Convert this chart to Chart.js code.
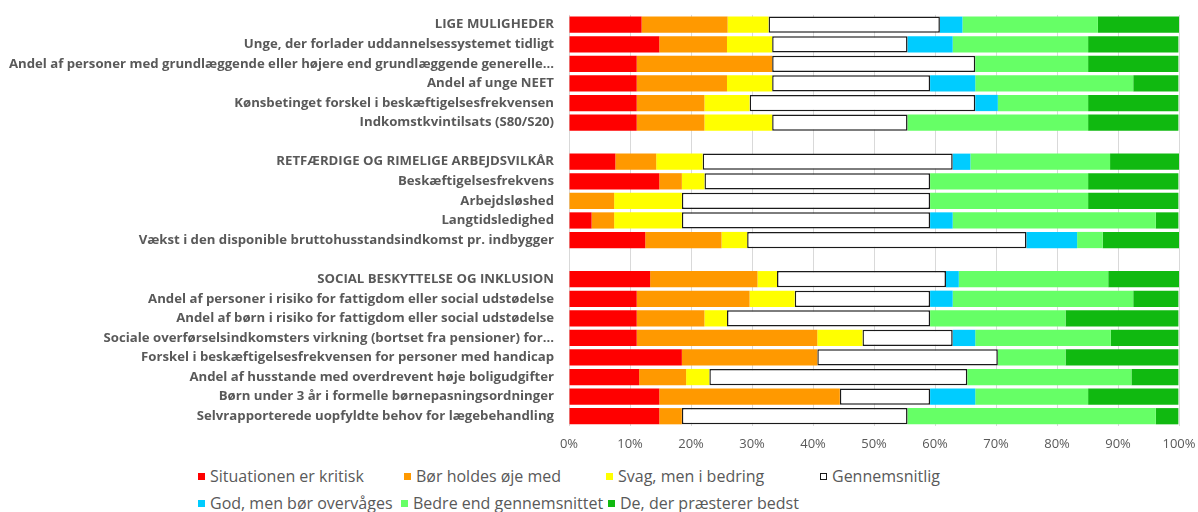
<!DOCTYPE html>
<html>
<head>
<meta charset="utf-8">
<script src="https://cdn.jsdelivr.net/npm/chart.js@4.4.1/dist/chart.umd.min.js"></script>
<style>
  html, body { margin: 0; padding: 0; background: #fff; }
  #wrap { position: relative; width: 1198px; height: 512px; }
  #chart { position: absolute; left: 0; top: 0; }
  .leg { position: absolute; font-family: "Open Sans", sans-serif; font-size: 16px; color: #595959; white-space: nowrap; line-height: 20px; }
  .leg i { display: inline-block; width: 7px; height: 7px; margin-right: 5px; vertical-align: 2px; box-sizing: border-box; }
</style>
</head>
<body>
<div id="wrap">
  <canvas id="chart" width="1198" height="460"></canvas>
  <div id="legend"></div>
</div>
<script>
const labels = [
  'LIGE MULIGHEDER',
  'Unge, der forlader uddannelsessystemet tidligt',
  'Andel af personer med grundlæggende eller højere end grundlæggende generelle…',
  'Andel af unge NEET',
  'Kønsbetinget forskel i beskæftigelsesfrekvensen',
  'Indkomstkvintilsats (S80/S20)',
  '',
  'RETFÆRDIGE OG RIMELIGE ARBEJDSVILKÅR',
  'Beskæftigelsesfrekvens',
  'Arbejdsløshed',
  'Langtidsledighed',
  'Vækst i den disponible bruttohusstandsindkomst pr. indbygger',
  '',
  'SOCIAL BESKYTTELSE OG INKLUSION',
  'Andel af personer i risiko for fattigdom eller social udstødelse',
  'Andel af børn i risiko for fattigdom eller social udstødelse',
  'Sociale overførselsindkomsters virkning (bortset fra pensioner) for…',
  'Forskel i beskæftigelsesfrekvensen for personer med handicap',
  'Andel af husstande med overdrevent høje boligudgifter',
  'Børn under 3 år i formelle børnepasningsordninger',
  'Selvrapporterede uopfyldte behov for lægebehandling'
];

// shares in percent, one value per row (blank rows = null)
const kritisk     = [11.9, 14.8, 11.1, 11.1, 11.1, 11.1, null, 7.6, 14.8, 0,    3.7,  12.5, null, 13.3, 11.1, 11.1, 11.1, 18.5, 11.5, 14.8, 14.8];
const holdesOje   = [14.1, 11.1, 22.2, 14.8, 11.1, 11.1, null, 6.7, 3.7,  7.4,  3.7,  12.5, null, 17.6, 18.5, 11.1, 29.6, 22.2, 7.7,  29.6, 3.7];
const svag        = [6.7,  7.4,  0,    7.4,  7.4,  11.1, null, 7.6, 3.7,  11.1, 11.1, 4.2,  null, 3.2,  7.4,  3.7,  7.4,  0,    3.8,  0,    0];
const gennemsnit  = [28.1, 22.2, 33.3, 25.9, 37.0, 22.2, null, 41.0, 37.0, 40.7, 40.7, 45.8, null, 27.7, 22.2, 33.3, 14.8, 29.6, 42.3, 14.8, 37.0];
const overvages   = [3.7,  7.4,  0,    7.4,  3.7,  0,    null, 2.9, 0,    0,    3.7,  8.3,  null, 2.1,  3.7,  0,    3.7,  0,    0,    7.4,  0];
const bedre       = [22.2, 22.2, 18.5, 25.9, 14.8, 29.6, null, 22.9, 25.9, 25.9, 33.3, 4.2,  null, 24.5, 29.6, 22.2, 22.2, 11.1, 26.9, 18.5, 40.7];
const bedst       = [13.3, 14.8, 14.8, 7.4,  14.8, 14.8, null, 11.4, 14.8, 14.8, 3.7,  12.5, null, 11.7, 7.4,  18.5, 11.1, 18.5, 7.7,  14.8, 3.7];

const xTicks = ['0%', '10%', '20%', '30%', '40%', '50%', '60%', '70%', '80%', '90%', '100%'];

const seriesNames = ['Situationen er kritisk', 'Bør holdes øje med', 'Svag, men i bedring', 'Gennemsnitlig',
  'God, men bør overvåges', 'Bedre end gennemsnittet', 'De, der præsterer bedst'];
const seriesData = [kritisk, holdesOje, svag, gennemsnit, overvages, bedre, bedst];
const colors = ['#ff0000', '#ff9900', '#ffff00', '#ffffff', '#00ccff', '#66ff66', '#10b910'];

const datasets = seriesNames.map((name, i) => ({
  label: name,
  data: seriesData[i],
  backgroundColor: colors[i],
  borderColor: i === 3 ? '#1a1a1a' : colors[i],
  borderWidth: i === 3 ? 1.5 : 0,
  borderSkipped: false,
  barPercentage: 0.83,
  categoryPercentage: 1.0
}));

const ctx = document.getElementById('chart').getContext('2d');
const chart = new Chart(ctx, {
  type: 'bar',
  data: { labels: labels, datasets: datasets },
  options: {
    indexAxis: 'y',
    responsive: false,
    animation: false,
    layout: { padding: { top: 11, right: 19, bottom: 0, left: 0 } },
    plugins: { legend: { display: false }, tooltip: { enabled: false } },
    scales: {
      x: {
        stacked: true,
        min: 0,
        max: 100,
        afterFit: s => { s.height = 34; s.paddingLeft = 0; s.paddingRight = 0; },
        grid: { color: '#d9d9d9', drawTicks: false },
        border: { display: false },
        ticks: {
          stepSize: 10,
          padding: 10,
          color: '#595959',
          font: { family: 'Open Sans', size: 13 },
          callback: (v, i) => xTicks[i]
        }
      },
      y: {
        stacked: true,
        afterFit: s => { s.width = 569; },
        grid: { display: false },
        border: { display: false },
        ticks: {
          autoSkip: false,
          padding: 7,
          color: '#595959',
          font: { family: 'Open Sans', size: 13.2, weight: 'bold' }
        }
      }
    }
  }
});

// legend drawn as html below the canvas
const legendPos = [[198, 466], [404, 466], [606, 466], [820, 466], [198, 493], [401, 493], [608, 493]];
const legend = document.getElementById('legend');
seriesNames.forEach((name, i) => {
  const d = document.createElement('div');
  d.className = 'leg';
  d.style.left = legendPos[i][0] + 'px';
  d.style.top = legendPos[i][1] + 'px';
  const box = document.createElement('i');
  box.style.background = colors[i];
  if (i === 3) box.style.border = '1px solid #1a1a1a';
  d.appendChild(box);
  d.appendChild(document.createTextNode(name));
  legend.appendChild(d);
});
</script>
</body>
</html>
